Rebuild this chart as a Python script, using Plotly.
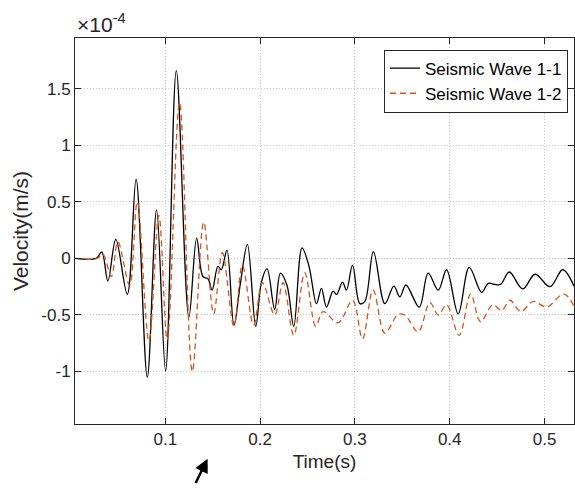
import plotly.graph_objects as go

# Seismic Wave 1-1 (black), velocity in units of 1e-4 m/s
t1 = [0.005, 0.027, 0.033, 0.0394, 0.0478, 0.0599, 0.0692, 0.081, 0.0908, 0.1003,
      0.1116, 0.1249, 0.1331, 0.1397, 0.145, 0.1494, 0.1555, 0.1591, 0.165, 0.1724,
      0.1792, 0.1866, 0.1954, 0.2014, 0.2073, 0.2154, 0.2214, 0.2284, 0.2355, 0.2442,
      0.2516, 0.2595, 0.2647, 0.2700, 0.2770, 0.2806, 0.2869, 0.2911, 0.2975, 0.3052,
      0.3105, 0.3195, 0.3316, 0.3411, 0.3474, 0.3538, 0.3678, 0.3773, 0.3879, 0.3967,
      0.4090, 0.4206, 0.4337, 0.4407, 0.4477, 0.4537, 0.4628, 0.4770, 0.4900, 0.5058,
      0.5192, 0.5311]
v1 = [0.0, 0.0, 0.058, -0.20, 0.168, -0.318, 0.70, -1.05, 0.43, -0.995,
      1.66, -0.52, 0.18, -0.16, -0.18, -0.28, -0.07, -0.10, 0.073, -0.59,
      -0.22, 0.124, -0.60, -0.21, -0.09, -0.45, -0.13, -0.24, -0.60, 0.094,
      -0.07, -0.40, -0.265, -0.43, -0.29, -0.32, -0.21, -0.28, -0.06, -0.40,
      -0.38, 0.06, -0.40, -0.245, -0.34, -0.235, -0.43, -0.13, -0.28, -0.10,
      -0.49, -0.08, -0.30, -0.22, -0.23, -0.23, -0.12, -0.27, -0.14, -0.25,
      -0.10, -0.245]

# Seismic Wave 1-2 (orange dashed)
t2 = [0.005, 0.028, 0.034, 0.043, 0.050, 0.0623, 0.0704, 0.0827, 0.0932, 0.102,
      0.115, 0.1285, 0.1405, 0.151, 0.1602, 0.1724, 0.1813, 0.1932, 0.2024, 0.2154,
      0.2242, 0.2355, 0.2471, 0.2587, 0.2664, 0.2823, 0.2975, 0.3080, 0.3192, 0.3316,
      0.3456, 0.3527, 0.3667, 0.3791, 0.3879, 0.3967, 0.4100, 0.4221, 0.4326, 0.4453,
      0.4548, 0.4636, 0.4749, 0.4882, 0.5023, 0.5206, 0.5322]
v2 = [0.0, 0.0, 0.04, -0.16, 0.147, -0.236, 0.50, -0.73, 0.38, -0.72,
      1.38, -1.0, 0.32, -0.49, 0.05, -0.60, -0.06, -0.59, -0.215, -0.50,
      -0.215, -0.68, -0.127, -0.60, -0.47, -0.57, -0.37, -0.71, -0.28, -0.66,
      -0.495, -0.50, -0.65, -0.39, -0.50, -0.41, -0.68, -0.315, -0.56, -0.41,
      -0.46, -0.37, -0.47, -0.38, -0.43, -0.315, -0.44]

x_ticks = [0.1, 0.2, 0.3, 0.4, 0.5]
x_ticktext = ["0.1", "0.2", "0.3", "0.4", "0.5"]
y_ticks = [-1.0, -0.5, 0.0, 0.5, 1.0, 1.5]
y_ticktext = ["-1", "-0.5", "0", "0.5", "1", "1.5"]

FONT = "Arial, Liberation Sans, Helvetica, sans-serif"
AX = "#262626"
GRID = "rgba(38,38,38,0.25)"

fig = go.Figure()
fig.add_trace(go.Scatter(x=t1, y=v1, mode="lines", name="Seismic Wave 1-1",
                         line=dict(color="#000000", width=1.3, shape="spline", smoothing=1.0)))
fig.add_trace(go.Scatter(x=t2, y=v2, mode="lines", name="Seismic Wave 1-2",
                         line=dict(color="#D95319", width=1.3, dash="6px,4px", shape="spline", smoothing=1.0)))

axis_common = dict(showline=True, linecolor=AX, linewidth=1, mirror="ticks",
                   ticks="inside", ticklen=6, tickcolor=AX, tickwidth=1,
                   showgrid=True, gridcolor=GRID, griddash="1px,2px", gridwidth=1,
                   zeroline=False, tickfont=dict(family=FONT, size=17, color=AX))

fig.update_xaxes(range=[0.00475, 0.5311], tickvals=x_ticks, ticktext=x_ticktext,
                 title=dict(text="Time(s)", font=dict(family=FONT, size=19, color=AX), standoff=6),
                 **axis_common)
fig.update_yaxes(range=[-1.464, 1.949], tickvals=y_ticks, ticktext=y_ticktext,
                 title=dict(text="Velocity(m/s)", font=dict(family=FONT, size=21, color=AX), standoff=6),
                 **axis_common)

fig.update_layout(
    width=575, height=489,
    margin=dict(l=75, r=1, t=38, b=65),
    paper_bgcolor="white", plot_bgcolor="white",
    font=dict(family=FONT, color=AX),
    showlegend=True,
    legend=dict(x=0.988, y=0.97, xanchor="right", yanchor="top",
                bgcolor="white", bordercolor=AX, borderwidth=1,
                font=dict(family=FONT, size=17, color="#000000"),
                tracegroupgap=0, itemwidth=30),
    annotations=[
        dict(text="×10<sup>-4</sup>", xref="paper", yref="paper", x=0.0, y=1.0,
             xanchor="left", yanchor="bottom", showarrow=False,
             font=dict(family=FONT, size=21, color=AX), yshift=0),
        dict(text=" ", xref="paper", yref="paper", x=0.2658, y=-0.0898,
             showarrow=True, ax=-15, ay=32, arrowhead=2, arrowsize=1.1,
             arrowwidth=2.5, arrowcolor="#000000"),
    ],
)

fig.write_html("out.html")
